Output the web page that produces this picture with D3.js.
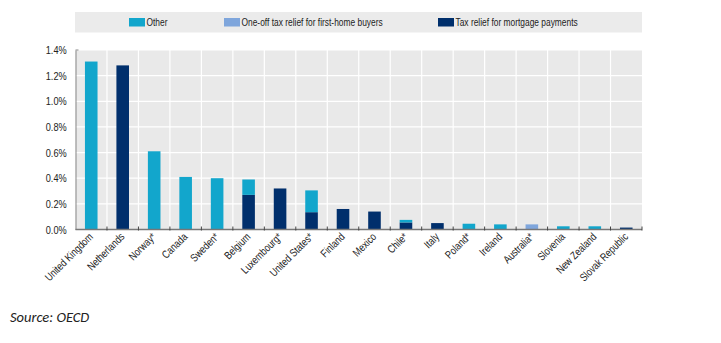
<!DOCTYPE html>
<html><head><meta charset="utf-8">
<script src="https://cdn.jsdelivr.net/npm/d3@7"></script>
<style>
body{margin:0;background:#fff;}
svg{display:block;}
.nar{font-family:"Liberation Sans",Arial,sans-serif;}
</style></head>
<body><svg id="c" width="721" height="343"></svg>
<script>
const categories = ["United Kingdom","Netherlands","Norway*","Canada","Sweden*","Belgium","Luxembourg*","United States*","Finland","Mexico","Chile*","Italy","Poland*","Ireland","Australia*","Slovenia","New Zealand","Slovak Republic"];
const mortgage = [0,1.28,0,0,0,0.27,0.32,0.135,0.16,0.14,0.055,0.05,0,0,0,0,0,0.015];
const oneOff   = [0,0,0,0,0,0,0,0,0,0,0,0,0,0,0.04,0,0,0];
const other    = [1.31,0,0.61,0.41,0.40,0.12,0,0.17,0,0,0.02,0,0.045,0.04,0,0.025,0.025,0];
const yTicks = [0,0.2,0.4,0.6,0.8,1.0,1.2,1.4];
const seriesNames = ["Other","One-off tax relief for first-home buyers","Tax relief for mortgage payments"];
const colors = {mortgage:"#002f6c", oneOff:"#7fa6dc", other:"#12a6cc"};
const SX = 0.8; // horizontal condensation to mimic a narrow font

const svg = d3.select("#c");
const L=75.5, R=642, T=50, B=229.5;
const x = d3.scaleBand().domain(categories).range([L,R]).padding(0);
const y = d3.scaleLinear().domain([0,1.4]).range([B,T]);

svg.append("rect").attr("x",L).attr("y",T).attr("width",R-L).attr("height",B-T).attr("fill","#e9e9e9");
svg.append("g").selectAll("line").data(yTicks.slice(1)).join("line")
  .attr("x1",L).attr("x2",R).attr("y1",d=>y(d)).attr("y2",d=>y(d))
  .attr("stroke","#fff").attr("stroke-width",1.2);
svg.append("g").selectAll("line").data(categories.slice(1)).join("line")
  .attr("x1",d=>x(d)).attr("x2",d=>x(d)).attr("y1",T).attr("y2",B)
  .attr("stroke","#fff").attr("stroke-width",1.2);

// legend
svg.append("rect").attr("x",75).attr("y",12).attr("width",567).attr("height",20.5).attr("fill","#ebebeb");
const legX=[129,224,438], legC=[colors.other,colors.oneOff,colors.mortgage];
seriesNames.forEach((n,i)=>{
  svg.append("rect").attr("x",legX[i]).attr("y",18).attr("width",16).attr("height",8.5).attr("fill",legC[i]);
  svg.append("text").attr("class","nar")
    .attr("transform",`translate(${legX[i]+17.5},26) scale(${SX},1)`)
    .attr("font-size",10.5).attr("fill","#222").text(n);
});

// bars
const bw = x.bandwidth()*0.4;
const data = categories.map((c,i)=>({c, m:mortgage[i], o1:oneOff[i], ot:other[i]}));
const g = svg.append("g");
data.forEach(d=>{
  const bx = x(d.c)+x.bandwidth()/2-bw/2;
  const segs=[[0,d.m,colors.mortgage],[d.m,d.m+d.o1,colors.oneOff],[d.m+d.o1,d.m+d.o1+d.ot,colors.other]];
  segs.forEach(s=>{
    if(s[1]>s[0]) g.append("rect").attr("x",bx).attr("width",bw)
      .attr("y",y(s[1])).attr("height",y(s[0])-y(s[1])).attr("fill",s[2]);
  });
});

// y axis
const ya = svg.append("g").attr("transform",`translate(${L},0)`)
  .call(d3.axisLeft(y).tickValues(yTicks).tickSize(0).tickPadding(11).tickFormat(d=>d.toFixed(1)+"%"));
ya.select(".domain").attr("stroke","#888");
ya.selectAll("text").attr("class","nar").attr("font-size",11.5).attr("fill","#222")
  .attr("transform",`scale(${SX},1)`);
svg.append("line").attr("x1",L).attr("x2",L+3).attr("y1",T).attr("y2",T).attr("stroke","#888");

// x axis
svg.append("line").attr("x1",L).attr("x2",R).attr("y1",B).attr("y2",B).attr("stroke","#777").attr("stroke-width",1.5);
svg.append("g").selectAll("line").data(categories.slice(1).concat(["_end"])).join("line")
  .attr("x1",d=>d==="_end"?R:x(d)).attr("x2",d=>d==="_end"?R:x(d)).attr("y1",B-3).attr("y2",B+1)
  .attr("stroke","#444");
svg.append("g").selectAll("text").data(categories).join("text")
  .attr("class","nar").attr("font-size",11).attr("fill","#222")
  .attr("text-anchor","end")
  .attr("transform",d=>`translate(${x(d)+x.bandwidth()/2+2.5},${B+8}) rotate(-45) scale(${SX},1)`)
  .text(d=>d);

svg.append("text").attr("x",10).attr("y",322).attr("font-family","Carlito,Calibri,'Liberation Sans',sans-serif")
  .attr("font-style","italic").attr("font-size",14.5).attr("fill","#222").text("Source: OECD");
</script></body></html>
